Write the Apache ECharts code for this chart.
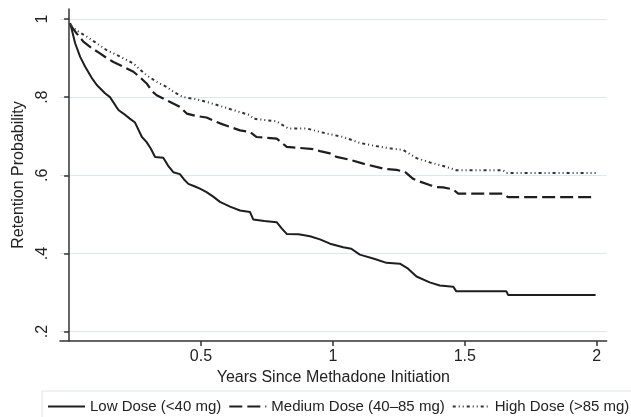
<!DOCTYPE html>
<html>
<head>
<meta charset="utf-8">
<script src="https://cdn.jsdelivr.net/npm/echarts@6/dist/echarts.min.js"></script>
<style>
html,body{margin:0;padding:0;background:#fff;}
#chart{width:631px;height:417px;}
</style>
</head>
<body>
<div id="chart"></div>
<script>
var seriesNames = ['Low Dose (<40 mg)', 'Medium Dose (40\u201385 mg)', 'High Dose (>85 mg)'];

var lowDose = [[0.004,0.99],[0.023,0.938],[0.042,0.903],[0.061,0.878],[0.085,0.85],[0.105,0.831],[0.136,0.81],[0.155,0.80],[0.187,0.767],[0.206,0.758],[0.23,0.745],[0.25,0.735],[0.276,0.698],[0.294,0.685],[0.31,0.668],[0.326,0.647],[0.357,0.645],[0.375,0.625],[0.395,0.608],[0.42,0.603],[0.435,0.59],[0.452,0.578],[0.475,0.572],[0.496,0.566],[0.521,0.557],[0.545,0.546],[0.572,0.532],[0.61,0.52],[0.648,0.51],[0.686,0.506],[0.698,0.487],[0.74,0.483],[0.787,0.48],[0.805,0.465],[0.825,0.45],[0.87,0.449],[0.913,0.444],[0.951,0.436],[0.989,0.425],[1.039,0.416],[1.07,0.412],[1.102,0.397],[1.159,0.386],[1.203,0.376],[1.254,0.374],[1.285,0.361],[1.317,0.341],[1.367,0.326],[1.405,0.318],[1.456,0.315],[1.468,0.303],[1.658,0.303],[1.664,0.294],[1.996,0.294]];

var mediumDose = [[0.004,0.985],[0.03,0.962],[0.054,0.942],[0.085,0.926],[0.117,0.912],[0.143,0.9],[0.168,0.89],[0.2,0.88],[0.244,0.865],[0.27,0.85],[0.294,0.835],[0.315,0.815],[0.332,0.805],[0.37,0.792],[0.42,0.775],[0.446,0.758],[0.48,0.752],[0.521,0.748],[0.572,0.733],[0.61,0.724],[0.648,0.715],[0.686,0.711],[0.711,0.698],[0.787,0.694],[0.825,0.673],[0.926,0.667],[0.951,0.662],[0.989,0.656],[1.014,0.647],[1.064,0.64],[1.115,0.63],[1.191,0.617],[1.241,0.614],[1.273,0.609],[1.304,0.591],[1.317,0.587],[1.367,0.575],[1.393,0.57],[1.418,0.569],[1.456,0.564],[1.475,0.553],[1.645,0.553],[1.664,0.544],[1.996,0.544]];

var highDose = [[0.004,0.985],[0.03,0.97],[0.067,0.955],[0.1,0.94],[0.143,0.92],[0.19,0.905],[0.244,0.886],[0.27,0.87],[0.294,0.856],[0.33,0.84],[0.37,0.826],[0.4,0.812],[0.433,0.80],[0.48,0.795],[0.521,0.788],[0.57,0.778],[0.622,0.767],[0.686,0.754],[0.698,0.745],[0.787,0.738],[0.83,0.72],[0.9,0.72],[0.951,0.711],[0.976,0.707],[1.039,0.698],[1.102,0.683],[1.16,0.675],[1.216,0.669],[1.266,0.665],[1.317,0.644],[1.368,0.633],[1.418,0.624],[1.468,0.613],[1.645,0.613],[1.658,0.606],[1.996,0.606]];

var xTickValues = [0.5, 1, 1.5, 2];
var xTickLabels = ['0.5', '1', '1.5', '2'];
var yTickValues = [0.2, 0.4, 0.6, 0.8, 1];
var yTickLabels = ['.2', '.4', '.6', '.8', '1'];

var FONT = "'Liberation Sans', Arial, Helvetica, sans-serif";
var TXT = '#222';
var AX = '#333';

function labelFor(values, labels) {
  return function (v) {
    for (var i = 0; i < values.length; i++) {
      if (Math.abs(values[i] - v) < 1e-9) return labels[i];
    }
    return '';
  };
}

var chart = echarts.init(document.getElementById('chart'), null, {renderer: 'canvas'});
chart.setOption({
  animation: false,
  backgroundColor: '#fff',
  grid: {left: 60, right: 24.3, top: 9, bottom: 76, containLabel: false},
  legend: {
    left: 42, top: 391, width: 610,
    padding: [8, 4, 8, 5],
    borderColor: '#dde5ea', borderWidth: 1,
    itemWidth: 37, itemHeight: 14, itemGap: 7,
    itemStyle: {color: 'rgba(0,0,0,0)', borderWidth: 0, opacity: 0},
    textStyle: {fontFamily: FONT, fontSize: 15, color: TXT},
    data: seriesNames
  },
  xAxis: {
    type: 'value', min: -0.0345, max: 2.038,
    name: 'Years Since Methadone Initiation', nameLocation: 'middle', nameGap: 24,
    nameTextStyle: {fontFamily: FONT, fontSize: 16, color: TXT},
    axisLine: {show: true, lineStyle: {color: AX, width: 1.5}},
    axisTick: {show: true, length: 5, lineStyle: {color: AX, width: 1.5}, customValues: xTickValues},
    axisLabel: {customValues: xTickValues, formatter: labelFor(xTickValues, xTickLabels), margin: 8,
      fontFamily: FONT, fontSize: 16, color: TXT},
    splitLine: {show: false}
  },
  yAxis: {
    type: 'value', min: 0.176, max: 1.0256,
    name: 'Retention Probability', nameLocation: 'middle', nameGap: 33,
    nameTextStyle: {fontFamily: FONT, fontSize: 16, color: TXT},
    axisLine: {show: true, lineStyle: {color: AX, width: 1.5}},
    axisTick: {show: true, length: 5, lineStyle: {color: AX, width: 1.5}, customValues: yTickValues},
    axisLabel: {customValues: yTickValues, formatter: labelFor(yTickValues, yTickLabels), rotate: 90, margin: 9,
      fontFamily: FONT, fontSize: 16, color: TXT},
    splitLine: {show: true, lineStyle: {color: '#dde7ee', width: 1.2}}
  },
  series: [
    {name: seriesNames[0], type: 'line', data: lowDose, showSymbol: false, symbol: 'none',
      lineStyle: {color: '#1e1e1e', width: 2, type: 'solid'}, itemStyle: {color: '#1e1e1e'}},
    {name: seriesNames[1], type: 'line', data: mediumDose, showSymbol: false, symbol: 'none',
      lineStyle: {color: '#1e1e1e', width: 2.2, type: [13, 5]}, itemStyle: {color: '#1e1e1e'}},
    {name: seriesNames[2], type: 'line', data: highDose, showSymbol: false, symbol: 'none',
      lineStyle: {color: '#333', width: 2, type: [3, 3, 1, 3, 1, 3]}, itemStyle: {color: '#333'}}
  ]
});
</script>
</body>
</html>
